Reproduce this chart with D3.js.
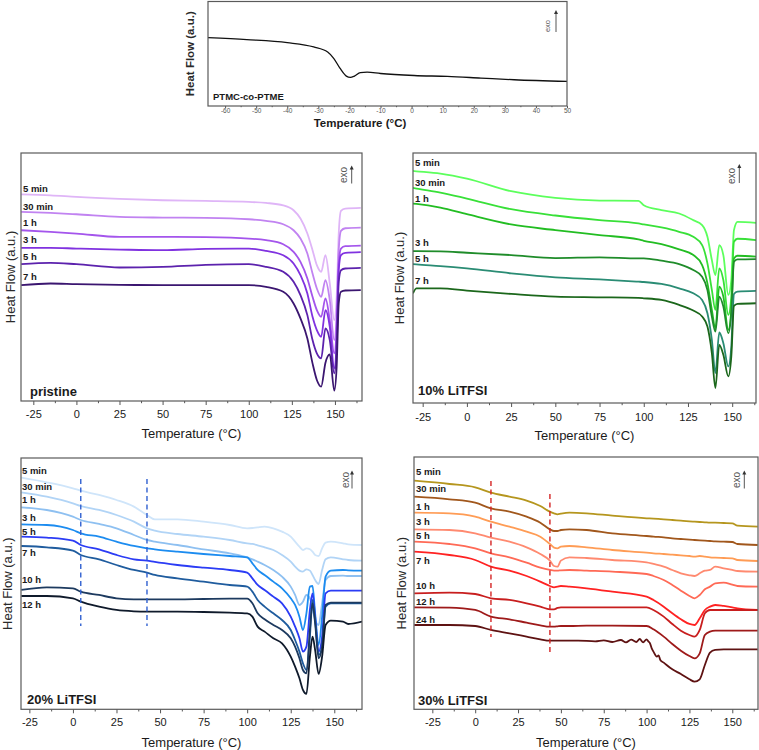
<!DOCTYPE html>
<html>
<head>
<meta charset="utf-8">
<script src="https://cdn.jsdelivr.net/npm/d3@7"></script>
<style>
  body { margin: 0; background: #fff; }
  svg { display: block; font-family: "Liberation Sans", Arial, sans-serif; }
</style>
</head>
<body>
<svg id="chart" width="759" height="750"></svg>
<script>
// ---- PTMC-co-PTME (top panel) ----
const ptmcTemp = [-65.5, -53, -40, -31.5, -27, -25, -23, -21, -19.7, -18.4, -16.5, -14.3, -10, 0.8, 11.5, 22.3, 33, 50];
const ptmcHF = [65.4, 63.5, 60.6, 56.5, 51.7, 45.4, 35.9, 28.6, 27.3, 28.6, 32.0, 32.4, 31.1, 29.2, 28.3, 26.7, 25.1, 23.5];

// ---- pristine ----
const pristineTimes = ['5 min', '30 min', '1 h', '3 h', '5 h', '7 h'];
const pristineTemp = [-32, -15, 0, 25, 50, 75, 100, 110, 120, 126, 130, 134, 137, 139.5, 142, 144.5, 147, 149.6, 151, 152.2, 153.5, 156, 165];
const pristineHF = [
  [62.1, 61.8, 61.3, 60.7, 60.3, 60.1, 59.8, 59.5, 58.8, 57.3, 54.8, 50.3, 45.3, 40.8, 38.8, 43.8, 35.3, 24.3, 31.3, 50.3, 57.1, 57.8, 58.0],
  [56.8, 56.5, 56.1, 55.3, 55.1, 55.0, 54.6, 54.1, 53.1, 51.3, 48.8, 44.3, 38.3, 33.8, 31.3, 36.3, 30.3, 18.3, 26.3, 45.3, 51.1, 51.9, 52.1],
  [51.3, 50.8, 50.3, 49.3, 49.3, 49.2, 48.8, 48.3, 47.1, 44.8, 41.8, 36.8, 31.3, 27.3, 25.3, 30.8, 24.3, 14.3, 22.3, 41.3, 45.8, 46.5, 46.7],
  [46.0, 46.0, 45.8, 45.5, 45.3, 45.7, 45.8, 45.1, 43.8, 41.3, 37.8, 32.3, 25.3, 21.3, 19.3, 27.3, 22.3, 9.8, 18.3, 39.3, 43.8, 44.5, 44.7],
  [41.1, 41.5, 41.1, 40.1, 40.3, 40.9, 41.1, 40.3, 38.8, 35.8, 31.8, 25.8, 18.3, 14.3, 12.8, 21.8, 18.3, 8.3, 16.3, 35.8, 39.3, 39.8, 40.0],
  [34.8, 35.3, 35.1, 34.9, 34.8, 34.8, 34.8, 34.3, 32.8, 29.3, 24.8, 18.8, 11.3, 6.3, 4.3, 11.5, 14.0, 3.1, 10.3, 29.3, 32.8, 33.2, 33.3]
];

// ---- 10% LiTFSI ----
const li10Times = ['5 min', '30 min', '1 h', '3 h', '5 h', '7 h'];
const li10Temp = [-30.5, -28.5, -15, 0, 25, 50, 75, 97, 100, 110, 120, 128, 133, 136, 138.5, 140.5, 142.7, 145, 147.8, 149.5, 151, 153, 163.5];
const li10HF = [
  [69.8, 69.7, 69.0, 67.5, 63.7, 61.7, 60.9, 60.8, 59.5, 58.0, 57.0, 55.0, 53.5, 50.0, 43.0, 38.5, 47.5, 44.5, 32.5, 37.0, 52.0, 54.5, 54.2],
  [64.7, 64.5, 63.3, 61.5, 58.3, 56.4, 55.0, 54.0, 53.7, 52.8, 51.5, 50.0, 47.5, 42.0, 34.0, 28.0, 40.5, 37.0, 26.5, 32.0, 48.5, 49.4, 49.0],
  [60.0, 59.9, 58.8, 56.8, 53.7, 52.0, 50.5, 49.2, 48.8, 47.8, 46.2, 44.5, 41.5, 36.0, 28.0, 22.5, 35.0, 32.0, 22.0, 28.0, 43.5, 44.3, 44.0],
  [45.7, 45.7, 45.6, 45.2, 44.5, 43.6, 43.8, 43.5, 43.5, 42.8, 41.8, 40.0, 38.0, 34.0, 26.0, 21.5, 32.0, 29.0, 21.0, 27.0, 42.5, 43.2, 43.3],
  [41.8, 41.7, 41.2, 40.5, 39.0, 37.8, 37.2, 36.5, 36.4, 35.8, 34.5, 33.0, 31.0, 27.0, 19.0, 9.0, 21.2, 18.0, 11.0, 17.0, 32.8, 33.5, 33.7],
  [33.0, 34.5, 34.5, 33.8, 32.8, 32.0, 31.8, 31.6, 31.5, 31.0, 29.5, 27.8, 26.0, 23.0, 15.0, 4.5, 17.5, 14.5, 8.0, 14.0, 29.2, 29.8, 30.0]
];

// ---- 20% LiTFSI ----
const li20Times = ['5 min', '30 min', '1 h', '3 h', '5 h', '7 h', '10 h', '12 h'];
const li20Temp = [-29.6, -15, 0, 4.5, 15, 25, 35, 42.5, 47, 60, 75, 90, 100, 103, 106, 110, 115, 120, 125, 127.5, 130, 132, 134, 136, 137.5, 139, 141, 143, 145, 148, 155, 158, 166];
const li20HF = [
  [69.5, 68.1, 66.3, 65.6, 64.3, 62.8, 60.8, 58.3, 57.0, 57.0, 56.3, 55.3, 54.3, 54.4, 54.6, 54.8, 54.3, 53.3, 51.8, 50.3, 48.8, 47.8, 48.3, 48.0, 47.3, 46.3, 46.0, 48.3, 50.0, 50.3, 49.8, 49.5, 49.3],
  [65.1, 63.8, 61.8, 61.0, 59.8, 58.3, 56.3, 54.3, 53.6, 52.6, 51.8, 50.8, 49.8, 49.6, 49.2, 48.6, 47.8, 46.3, 44.3, 42.8, 41.6, 41.3, 42.0, 41.6, 40.3, 38.8, 37.6, 41.8, 45.0, 45.6, 45.0, 44.8, 44.6],
  [60.6, 59.8, 57.8, 56.8, 55.6, 54.3, 52.3, 50.8, 50.3, 49.3, 48.0, 46.8, 45.6, 45.0, 44.3, 43.3, 41.8, 39.8, 36.8, 34.3, 31.3, 32.3, 34.3, 33.3, 30.3, 26.8, 25.3, 31.8, 38.8, 40.0, 40.1, 40.0, 40.0],
  [55.5, 55.3, 53.8, 52.8, 51.8, 50.3, 49.0, 48.3, 48.0, 47.3, 46.6, 46.0, 45.6, 43.8, 41.8, 40.3, 38.3, 36.3, 33.3, 31.3, 27.8, 23.8, 28.8, 36.8, 37.0, 28.8, 19.3, 27.8, 39.8, 41.6, 41.8, 41.7, 41.6],
  [51.8, 51.5, 50.6, 49.3, 48.0, 46.3, 45.0, 44.6, 44.2, 43.3, 42.5, 41.8, 41.0, 39.3, 37.3, 35.8, 33.8, 31.8, 27.8, 24.8, 21.3, 17.3, 18.8, 29.8, 34.8, 27.8, 17.3, 21.8, 34.8, 35.6, 35.6, 35.6, 35.6],
  [49.0, 48.6, 47.6, 46.3, 45.0, 43.3, 41.8, 41.0, 40.3, 39.3, 38.3, 37.3, 36.8, 35.3, 32.8, 30.8, 28.8, 26.8, 23.8, 20.8, 17.3, 13.8, 11.8, 21.8, 32.8, 26.8, 16.3, 18.8, 30.8, 31.8, 31.8, 31.8, 31.8],
  [35.8, 36.6, 36.3, 35.3, 34.3, 33.3, 33.0, 33.0, 33.0, 33.0, 33.1, 33.2, 33.2, 31.8, 28.8, 27.0, 25.3, 23.8, 21.3, 18.8, 15.3, 11.8, 10.8, 23.8, 31.8, 25.8, 15.3, 18.8, 31.3, 32.0, 32.0, 32.0, 32.0],
  [34.0, 34.0, 33.3, 32.3, 30.8, 29.8, 29.4, 29.3, 29.3, 29.3, 29.2, 29.0, 28.8, 27.8, 24.8, 23.3, 21.3, 19.8, 15.8, 12.8, 9.3, 5.8, 4.6, 15.8, 21.8, 17.8, 10.6, 15.8, 25.3, 26.6, 26.3, 25.6, 26.3]
];
const li20Guides = [4.5, 42.5];

// ---- 30% LiTFSI ----
const li30Times = ['5 min', '30 min', '1 h', '3 h', '5 h', '7 h', '10 h', '12 h', '24 h'];
const li30Temp = [-35.5, -15, 0, 9.2, 20, 30, 38, 43.6, 46, 48, 50, 55, 65, 80, 100, 104, 110, 115, 120, 125, 128, 131, 134, 137, 140, 145, 150, 153, 164.8];
const li30HF = [
  [68.6, 67.6, 66.6, 65.0, 63.8, 62.6, 61.0, 59.3, 58.8, 58.5, 58.7, 59.0, 58.8, 58.1, 57.3, 57.2, 57.0, 56.8, 56.6, 56.4, 56.3, 56.2, 56.1, 56.0, 56.0, 55.9, 55.8, 55.1, 54.8],
  [63.8, 63.0, 62.0, 60.3, 59.3, 57.8, 56.0, 54.0, 53.5, 53.5, 53.8, 54.0, 53.8, 52.8, 52.0, 51.8, 51.6, 51.3, 51.1, 50.9, 50.8, 50.7, 50.6, 50.5, 50.4, 50.3, 50.2, 49.6, 49.3],
  [59.0, 58.8, 57.8, 56.3, 54.8, 53.3, 51.8, 49.6, 48.5, 48.3, 48.8, 49.0, 48.6, 47.8, 47.0, 46.8, 46.6, 46.4, 46.2, 46.0, 45.8, 46.0, 45.8, 45.6, 45.5, 45.4, 45.3, 44.8, 44.5],
  [54.0, 53.8, 52.8, 51.5, 50.3, 48.6, 46.6, 44.6, 43.0, 42.8, 44.6, 45.6, 45.4, 44.8, 44.1, 43.6, 42.8, 41.8, 40.8, 40.2, 40.0, 40.8, 41.6, 41.8, 42.8, 42.3, 41.8, 41.5, 41.3],
  [50.3, 49.6, 48.3, 46.8, 45.6, 44.0, 42.5, 41.8, 41.6, 41.6, 41.7, 41.8, 41.6, 41.3, 40.6, 40.0, 38.8, 37.3, 35.6, 34.0, 33.3, 34.3, 36.0, 36.8, 37.8, 38.0, 37.4, 37.0, 36.8],
  [47.3, 46.3, 44.8, 42.8, 41.6, 40.0, 38.3, 37.0, 36.6, 36.8, 37.0, 36.8, 36.3, 35.3, 33.8, 32.8, 30.8, 28.8, 27.0, 25.6, 25.3, 27.3, 29.8, 30.8, 31.3, 31.0, 30.6, 30.3, 29.8],
  [34.8, 35.0, 34.6, 33.3, 32.8, 31.8, 30.8, 30.0, 30.0, 30.4, 30.6, 30.6, 30.6, 30.6, 30.6, 29.8, 27.8, 25.6, 23.6, 22.3, 21.8, 23.8, 28.8, 29.8, 29.8, 29.8, 29.8, 29.8, 29.8],
  [30.6, 30.5, 29.8, 27.8, 27.0, 26.0, 25.2, 24.8, 24.8, 24.9, 25.0, 25.0, 25.1, 25.1, 25.0, 24.0, 21.8, 19.6, 17.6, 16.0, 15.3, 16.8, 22.3, 23.3, 23.6, 23.6, 23.6, 23.6, 23.6]
];
// the 24 h trace is noisy, so it has its own temperature points
const li30Temp24 = [-35.5, -15, 0, 9.2, 20, 30, 38, 43.6, 50, 60, 70, 75, 80, 85, 88, 91, 94, 96, 98, 100, 101, 102, 103, 104, 106, 107, 108, 110, 115, 120, 125, 128, 131, 134, 137, 140, 145, 150, 164.8];
const li30HF24 = [25.3, 25.3, 25.0, 23.8, 22.8, 21.8, 21.0, 20.6, 20.6, 20.6, 20.4, 20.7, 20.2, 20.8, 20.1, 20.9, 20.2, 21.1, 20.1, 21.0, 20.4, 19.8, 18.3, 17.3, 15.8, 16.2, 14.8, 14.0, 12.0, 10.6, 9.0, 8.3, 9.0, 13.3, 17.0, 17.8, 18.0, 18.0, 18.0];
const li30Guides = [9.2, 43.6];

// ---- axis ticks ----
const topTicks = [-60, -50, -40, -30, -20, -10, 0, 10, 20, 30, 40, 50];
const topMinor = [-55, -45, -35, -25, -15, -5, 5, 15, 25, 35, 45];
const panelTicks = [-25, 0, 25, 50, 75, 100, 125, 150];
const panelMinor = [-12.5, 12.5, 37.5, 62.5, 87.5, 112.5, 137.5, 162.5];

// ---- colours ----
const pristineColors = ['#dfb5f7', '#c183f1', '#a455ec', '#8032e0', '#5c22ad', '#3b1670'];
const li10Colors = ['#5cff5c', '#38e038', '#22bd22', '#1f8c2a', '#2a8c74', '#1b671b'];
const li20Colors = ['#cfe5fa', '#b1d4f6', '#8ec0f1', '#1c8cf0', '#2b3cf5', '#1f5c9e', '#1d3a5f', '#0f1a2b'];
const li30Colors = ['#b5961e', '#a1571c', '#ff9c55', '#ff8a70', '#ff6a56', '#ff2222', '#c81e1e', '#9e1a1a', '#5e1212'];

const svg = d3.select('#chart');

function seriesFrom(times, temps, values, colors) {
  return times.map((t, i) => ({ label: t, temps: temps, values: values[i], color: colors[i] }));
}

function drawPanel(c) {
  const x = d3.scaleLinear().domain(c.xDomain).range([c.box.left, c.box.right]);
  const y = d3.scaleLinear().domain(c.yDomain).range([c.box.bottom, c.box.top]);
  const g = svg.append('g');

  g.append('clipPath').attr('id', 'clip-' + c.id)
    .append('rect')
    .attr('x', c.box.left).attr('y', c.box.top)
    .attr('width', c.box.right - c.box.left)
    .attr('height', c.box.bottom - c.box.top);

  const plot = g.append('g').attr('clip-path', `url(#clip-${c.id})`);
  const line = d3.line()
    .x(d => x(d[0]))
    .y(d => y(d[1]))
    .curve(d3.curveMonotoneX);

  c.series.forEach(s => {
    plot.append('path')
      .datum(s.temps.map((t, i) => [t, s.values[i]]))
      .attr('d', line)
      .attr('fill', 'none')
      .attr('stroke', s.color)
      .attr('stroke-width', c.lineWidth)
      .attr('stroke-linejoin', 'round');
  });

  // dashed guide lines
  (c.guides || []).forEach((t, i) => {
    plot.append('line')
      .attr('x1', x(t)).attr('x2', x(t))
      .attr('y1', c.guideTop[i]).attr('y2', c.guideBottom[i])
      .attr('stroke', c.guideColor)
      .attr('stroke-width', 1.4)
      .attr('stroke-dasharray', '5,3.5');
  });

  // bottom axis with major and minor ticks
  const major = d3.axisBottom(x).tickValues(c.ticks)
    .tickSize(c.tickLen).tickPadding(c.tickPad)
    .tickFormat(d => String(d));
  const minor = d3.axisBottom(x)
    .tickValues(c.minor.filter(v => v > c.xDomain[0] && v < c.xDomain[1]))
    .tickSize(c.tickLen * 0.55).tickFormat('');

  [major, minor].forEach(ax => {
    const a = g.append('g')
      .attr('transform', `translate(0,${c.box.bottom})`)
      .call(ax);
    a.select('.domain').remove();
    a.selectAll('line').attr('stroke', '#555');
    a.selectAll('text')
      .attr('font-size', c.tickFont)
      .attr('font-family', null)
      .attr('fill', c.tickColor);
  });

  // frame
  g.append('rect')
    .attr('x', c.box.left).attr('y', c.box.top)
    .attr('width', c.box.right - c.box.left)
    .attr('height', c.box.bottom - c.box.top)
    .attr('fill', 'none')
    .attr('stroke', '#5a5a5a')
    .attr('stroke-width', 1.2);

  // axis titles
  g.append('text')
    .attr('x', c.xTitleX !== undefined ? c.xTitleX : (c.box.left + c.box.right) / 2)
    .attr('y', c.xTitleY)
    .attr('dy', '0.35em')
    .attr('text-anchor', 'middle')
    .attr('font-size', c.titleFont)
    .attr('font-weight', c.titleWeight)
    .attr('fill', '#1a1a1a')
    .text('Temperature (°C)');

  g.append('text')
    .attr('transform', `translate(${c.yTitleX},${(c.box.top + c.box.bottom) / 2}) rotate(-90)`)
    .attr('dy', '0.35em')
    .attr('text-anchor', 'middle')
    .attr('font-size', c.titleFont)
    .attr('font-weight', c.titleWeight)
    .attr('fill', '#2a2a2a')
    .text('Heat Flow (a.u.)');

  // time labels next to the traces
  (c.labelY || []).forEach((ly, i) => {
    g.append('text')
      .attr('x', c.labelX)
      .attr('y', ly)
      .attr('dy', '0.35em')
      .attr('font-size', 9.5)
      .attr('font-weight', 'bold')
      .attr('fill', '#1a1a1a')
      .text(c.series[i].label);
  });

  // sample name
  g.append('text')
    .attr('x', c.name.x)
    .attr('y', c.name.y)
    .attr('dy', '0.35em')
    .attr('font-size', c.name.size)
    .attr('font-weight', 'bold')
    .attr('fill', '#1a1a1a')
    .text(c.name.text);

  // exo marker
  const e = c.exo;
  g.append('text')
    .attr('transform', `translate(${e.tx},${e.ty}) rotate(-90)`)
    .attr('dy', '0.35em')
    .attr('text-anchor', 'middle')
    .attr('font-size', e.size)
    .attr('fill', '#555')
    .text('exo');
  g.append('line')
    .attr('x1', e.ax).attr('x2', e.ax)
    .attr('y1', e.a2).attr('y2', e.a1 + 3)
    .attr('stroke', '#555').attr('stroke-width', 1);
  g.append('path')
    .attr('d', `M${e.ax},${e.a1} L${e.ax - 2},${e.a1 + 4} L${e.ax + 2},${e.a1 + 4} Z`)
    .attr('fill', '#333');
}

const bigAxis = { ticks: panelTicks, minor: panelMinor, tickLen: 4, tickFont: 11, tickColor: '#1a1a1a', titleFont: 13, titleWeight: 'normal', lineWidth: 1.8 };

drawPanel({
  id: 'top',
  box: { left: 208, right: 567, top: 1.5, bottom: 106 },
  xDomain: [-65.5, 50], yDomain: [0, 100],
  series: [{ label: '', temps: ptmcTemp, values: ptmcHF, color: '#111' }],
  ticks: topTicks, minor: topMinor, tickLen: 2.2, tickPad: 0.5, tickFont: 6.5, tickColor: '#555',
  titleFont: 11.5, titleWeight: 'bold', lineWidth: 1.3,
  xTitleX: 360, xTitleY: 123, yTitleX: 190,
  name: { text: 'PTMC-co-PTME', x: 213, y: 97, size: 9.5 },
  exo: { tx: 547, ty: 26, size: 7.5, ax: 556, a1: 10, a2: 32 }
});

drawPanel(Object.assign({}, bigAxis, {
  id: 'pristine',
  box: { left: 21, right: 362, top: 153, bottom: 401 },
  xDomain: [-32.15, 165.7], yDomain: [0, 74.5],
  series: seriesFrom(pristineTimes, pristineTemp, pristineHF, pristineColors),
  tickPad: 5, xTitleY: 433, yTitleX: 10,
  labelX: 23, labelY: [189, 207, 223, 240, 257, 277],
  name: { text: 'pristine', x: 30, y: 391, size: 13 },
  exo: { tx: 343.5, ty: 175, size: 10, ax: 351.7, a1: 165.5, a2: 183.5 }
}));

drawPanel(Object.assign({}, bigAxis, {
  id: 'li10',
  box: { left: 413, right: 756, top: 153, bottom: 403 },
  xDomain: [-30.47, 163.46], yDomain: [0, 75.2],
  series: seriesFrom(li10Times, li10Temp, li10HF, li10Colors),
  tickPad: 6, xTitleY: 435, yTitleX: 399,
  labelX: 415, labelY: [163, 183, 199, 243, 259, 281],
  name: { text: '10% LiTFSI', x: 418, y: 390, size: 13 },
  exo: { tx: 731, ty: 176, size: 10, ax: 739.3, a1: 164, a2: 183 }
}));

drawPanel(Object.assign({}, bigAxis, {
  id: 'li20',
  box: { left: 21, right: 362, top: 458, bottom: 709.3 },
  xDomain: [-29.8, 165.9], yDomain: [0, 75.4],
  series: seriesFrom(li20Times, li20Temp, li20HF, li20Colors),
  guides: li20Guides, guideTop: [479, 479], guideBottom: [626, 626], guideColor: '#2f5fd0',
  tickPad: 5, xTitleY: 742, yTitleX: 7,
  labelX: 22, labelY: [471, 487, 500, 518, 532, 553, 580, 605],
  name: { text: '20% LiTFSI', x: 27, y: 699, size: 13 },
  exo: { tx: 345, ty: 480, size: 10, ax: 352, a1: 470.5, a2: 488.5 }
}));

drawPanel(Object.assign({}, bigAxis, {
  id: 'li30',
  box: { left: 414, right: 758, top: 457, bottom: 709.3 },
  xDomain: [-35.7, 165], yDomain: [0, 75.7],
  series: seriesFrom(li30Times.slice(0, 8), li30Temp, li30HF, li30Colors)
    .concat([{ label: li30Times[8], temps: li30Temp24, values: li30HF24, color: li30Colors[8] }]),
  guides: li30Guides, guideTop: [481, 494], guideBottom: [637, 652], guideColor: '#d42222',
  tickPad: 5, xTitleY: 742, yTitleX: 401,
  labelX: 416, labelY: [472, 489, 507, 522, 536, 561, 586, 602, 620],
  name: { text: '30% LiTFSI', x: 418, y: 700, size: 13 },
  exo: { tx: 736, ty: 480, size: 10, ax: 744.3, a1: 470.5, a2: 488.5 }
}));
</script>
</body>
</html>
